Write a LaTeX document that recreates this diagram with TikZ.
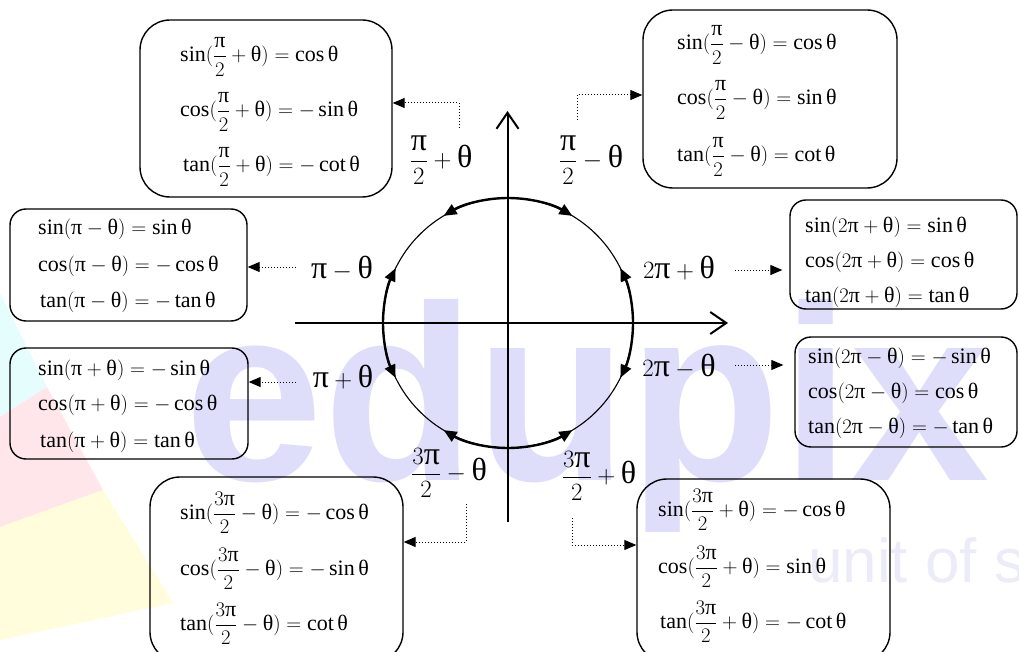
\documentclass[tikz,border=0pt]{standalone}
\usepackage{amsmath}
\usepackage{fontspec}
\setmainfont{Liberation Serif}
\newfontfamily\wmfont{Liberation Sans}
\usetikzlibrary{arrows.meta}
\definecolor{wm}{HTML}{DEDEFA}
\definecolor{wmlight}{HTML}{ECECF8}
\definecolor{cy}{HTML}{E6FDFD}
\definecolor{pk}{HTML}{FFE6EA}
\definecolor{yl}{HTML}{FFFDDC}
\newcommand\Pp{\mbox{π}}
\newcommand\Th{\mbox{θ}}
\tikzset{
  box/.style={draw, line width=1.4pt, rounded corners=#1, inner sep=0pt},
  box/.default=28pt,
  eq/.style={anchor=west, inner sep=0pt, font=\fontsize{22}{24}\selectfont},
  lab/.style={inner sep=0pt, font=\fontsize{32}{34}\selectfont},
  conn/.style={dotted, line width=1pt, -{Triangle[length=12pt,width=10pt]}},
  arcst/.style={line width=2.4pt, -{Triangle[length=13pt,width=11pt]}},
  axis/.style={line width=2pt, -{Straight Barb[length=16pt,width=22pt]}},
}
\begin{document}
\begin{tikzpicture}[x=1pt,y=-1pt]
\useasboundingbox (0,0) rectangle (1019,652);
% background watermark
\fill[cy] (0,293) -- (47,387) -- (0,417) -- cycle;
\fill[pk] (0,417) -- (47,387) -- (103,490) -- (0,527) -- cycle;
\fill[yl] (0,527) -- (103,490) -- (173,603) -- (0,640) -- cycle;
\node[anchor=base west, inner sep=0pt, text=wm, font=\fontsize{250}{250}\wmfont\bfseries] (wmk) at (184,480) {edupix};
\node[anchor=base west, inner sep=0pt, text=wmlight, font=\fontsize{62}{62}\wmfont] (wmk2) at (808,582) {unit of s};

% axes and circle
\coordinate (O) at (508,323);
\coordinate (xl) at (295,323);
\coordinate (xr) at (728,323);
\coordinate (yb) at (507.5,522);
\coordinate (yt) at (507.5,111);
\draw[axis] (xl) -- (xr);
\draw[axis] (yb) -- (yt);
\draw[line width=1.1pt] (O) circle[radius=125];
\draw[arcst] (O) ++(-90:125) arc[start angle=-90, end angle=-121, radius=125];
\draw[arcst] (O) ++(-90:125) arc[start angle=-90, end angle=-59, radius=125];
\draw[arcst] (O) ++(0:125) arc[start angle=0, end angle=-26, radius=125];
\draw[arcst] (O) ++(0:125) arc[start angle=0, end angle=26, radius=125];
\draw[arcst] (O) ++(180:125) arc[start angle=180, end angle=206, radius=125];
\draw[arcst] (O) ++(180:125) arc[start angle=180, end angle=154, radius=125];
\draw[arcst] (O) ++(90:125) arc[start angle=90, end angle=121, radius=125];
\draw[arcst] (O) ++(90:125) arc[start angle=90, end angle=59, radius=125];

% boxes
\node[box=30pt, minimum width=252pt, minimum height=177pt] (b1) at (266,108.5) {};
\node[box=30pt, minimum width=254pt, minimum height=178pt] (b2) at (770,99) {};
\node[box=16pt, minimum width=237pt, minimum height=112pt] (b3) at (128.5,265) {};
\node[box=16pt, minimum width=238pt, minimum height=111pt] (b4) at (129,403.5) {};
\node[box=16pt, minimum width=227pt, minimum height=109pt] (b5) at (903.5,254.5) {};
\node[box=16pt, minimum width=222pt, minimum height=110pt] (b6) at (906,392) {};
\node[box=30pt, minimum width=253pt, minimum height=185pt] (b7) at (276.5,569.5) {};
\node[box=30pt, minimum width=253pt, minimum height=183pt] (b8) at (763.5,570.5) {};

% equations
\node[eq] (b1a) at (180,57)  {$\sin(\dfrac{\Pp}{2}+\Th)=\cos\Th$};
\node[eq] (b1b) at (180,112) {$\cos(\dfrac{\Pp}{2}+\Th)=-\sin\Th$};
\node[eq] (b1c) at (183,167) {$\tan(\dfrac{\Pp}{2}+\Th)=-\cot\Th$};

\node[eq] (b2a) at (677,45)  {$\sin(\dfrac{\Pp}{2}-\Th)=\cos\Th$};
\node[eq] (b2b) at (677,100) {$\cos(\dfrac{\Pp}{2}-\Th)=\sin\Th$};
\node[eq] (b2c) at (677,157) {$\tan(\dfrac{\Pp}{2}-\Th)=\cot\Th$};

\node[eq] (b3a) at (38,229) {$\sin(\Pp-\Th)=\sin\Th$};
\node[eq] (b3b) at (38,266) {$\cos(\Pp-\Th)=-\cos\Th$};
\node[eq] (b3c) at (40,302) {$\tan(\Pp-\Th)=-\tan\Th$};

\node[eq] (b4a) at (38,370) {$\sin(\Pp+\Th)=-\sin\Th$};
\node[eq] (b4b) at (38,405) {$\cos(\Pp+\Th)=-\cos\Th$};
\node[eq] (b4c) at (40,442) {$\tan(\Pp+\Th)=\tan\Th$};

\node[eq] (b5a) at (805,227) {$\sin(2\Pp+\Th)=\sin\Th$};
\node[eq] (b5b) at (805,262) {$\cos(2\Pp+\Th)=\cos\Th$};
\node[eq] (b5c) at (805,297) {$\tan(2\Pp+\Th)=\tan\Th$};

\node[eq] (b6a) at (808,358) {$\sin(2\Pp-\Th)=-\sin\Th$};
\node[eq] (b6b) at (808,393) {$\cos(2\Pp-\Th)=\cos\Th$};
\node[eq] (b6c) at (808,428) {$\tan(2\Pp-\Th)=-\tan\Th$};

\node[eq] (b7a) at (180,513) {$\sin(\dfrac{3\Pp}{2}-\Th)=-\cos\Th$};
\node[eq] (b7b) at (180,569) {$\cos(\dfrac{3\Pp}{2}-\Th)=-\sin\Th$};
\node[eq] (b7c) at (180,624) {$\tan(\dfrac{3\Pp}{2}-\Th)=\cot\Th$};

\node[eq] (b8a) at (658,510) {$\sin(\dfrac{3\Pp}{2}+\Th)=-\cos\Th$};
\node[eq] (b8b) at (658,567) {$\cos(\dfrac{3\Pp}{2}+\Th)=\sin\Th$};
\node[eq] (b8c) at (660,622) {$\tan(\dfrac{3\Pp}{2}+\Th)=-\cot\Th$};

% labels
\node[lab] (l1) at (441,160) {$\dfrac{\Pp}{2}+\Th$};
\node[lab] (l2) at (591,160) {$\dfrac{\Pp}{2}-\Th$};
\node[lab] (l3) at (342,268) {$\Pp-\Th$};
\node[lab] (l4) at (343,377) {$\Pp+\Th$};
\node[lab] (l5) at (679,268) {$2\Pp+\Th$};
\node[lab] (l6) at (679,366) {$2\Pp-\Th$};
\node[lab] (l7) at (449,473) {$\dfrac{3\Pp}{2}-\Th$};
\node[lab] (l8) at (599,476) {$\dfrac{3\Pp}{2}+\Th$};

% connectors
\coordinate (c1) at (459,128); \coordinate (t1) at (0,103);
\draw[conn] (c1) |- (b1.east |- t1);
\coordinate (c2) at (577,120); \coordinate (t2) at (0,95);
\draw[conn] (c2) |- (b2.west |- t2);
\coordinate (c3) at (296,267);
\draw[conn] (c3) -- (b3.east |- c3);
\coordinate (c4) at (296,382);
\draw[conn] (c4) -- (b4.east |- c4);
\coordinate (c5) at (735,270);
\draw[conn, shorten >=7pt] (c5) -- (b5.west |- c5);
\coordinate (c6) at (735,365);
\draw[conn, shorten >=11pt] (c6) -- (b6.west |- c6);
\coordinate (c7) at (466,504); \coordinate (t7) at (0,542);
\draw[conn] (c7) |- (b7.east |- t7);
\coordinate (c8) at (572,518); \coordinate (t8) at (0,545);
\draw[conn] (c8) |- (b8.west |- t8);
\end{tikzpicture}
\end{document}
